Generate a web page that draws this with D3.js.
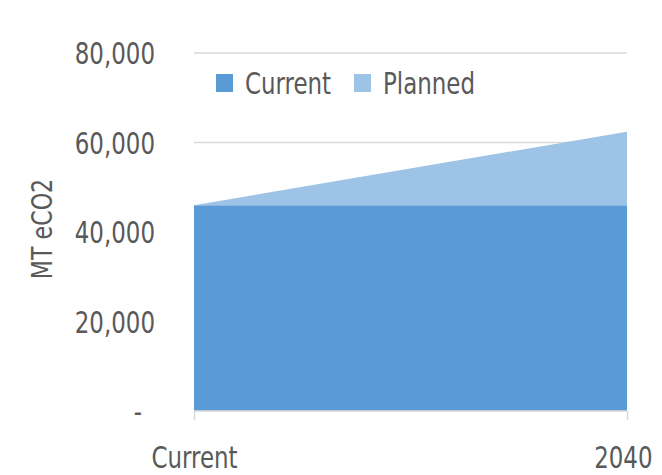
<html>
<head>
<meta charset="utf-8">
<title>Emissions</title>
<style>
  body { margin: 0; background: #fff; }
  text { font-family: "Liberation Sans Narrow", "DejaVu Sans Condensed", sans-serif; fill: #595959; }
  .grid line { stroke: #d9d9d9; stroke-width: 1.3px; }
</style>
</head>
<body>
<script src="https://cdn.jsdelivr.net/npm/d3@7"></script>
<script>
var width = 662,
    height = 475;

// data
var categories = ["Current", "2040"];
var currentValues = [46000, 46000];
var plannedValues = [0, 16400];
var seriesNames = ["Current", "Planned"];
var seriesColors = ["#5b9bd5", "#9dc3e6"];
var yTicks = [0, 20000, 40000, 60000, 80000];

var svg = d3.select("body").append("svg")
    .attr("width", width)
    .attr("height", height);

var x = d3.scalePoint().domain(categories).range([194, 627]);
var y = d3.scaleLinear().domain([0, 80000]).range([411, 53]);

// squeeze text horizontally, the original font is a narrow one
function narrow(sel) {
    sel.each(function() {
        var w = this.getComputedTextLength();
        d3.select(this).attr("textLength", w * 0.85).attr("lengthAdjust", "spacingAndGlyphs");
    });
}

var rows = categories.map(function(c, i) {
    return { cat: c, Current: currentValues[i], Planned: plannedValues[i] };
});
var stack = d3.stack().keys(seriesNames)(rows);

// gridlines
svg.append("g").attr("class", "grid")
    .selectAll("line")
    .data(yTicks.filter(function(d) { return d > 0; }))
    .enter().append("line")
    .attr("x1", x.range()[0]).attr("x2", x.range()[1])
    .attr("y1", function(d) { return y(d); })
    .attr("y2", function(d) { return y(d); });

var area = d3.area()
    .x(function(d) { return x(d.data.cat); })
    .y0(function(d) { return y(d[0]); })
    .y1(function(d) { return y(d[1]); });

svg.append("g").selectAll("path")
    .data(stack)
    .enter().append("path")
    .attr("fill", function(d, i) { return seriesColors[i]; })
    .attr("d", area);

// y axis labels
var yAxis = d3.axisLeft(y)
    .tickValues(yTicks)
    .tickSize(0)
    .tickPadding(0)
    .tickFormat(function(d) { return d === 0 ? "-" : d3.format(",")(d); });
var ya = svg.append("g").attr("transform", "translate(155,0)").call(yAxis);
ya.select(".domain").remove();
ya.selectAll("text").style("font-size", "30px").attr("fill", "#595959").attr("dy", "0.35em")
    .attr("dx", function(d) { return d === 0 ? -13 : 0; })
    .call(narrow);

// x axis
var xAxis = d3.axisBottom(x).tickSize(9).tickPadding(37);
var xa = svg.append("g").attr("transform", "translate(0,411)").call(xAxis);
xa.select(".domain").attr("stroke", "#d9d9d9").attr("stroke-width", 1.5).attr("d", "M194,0H627");
xa.selectAll(".tick line").attr("stroke", "#d9d9d9").attr("stroke-width", 1.5);
xa.selectAll("text").style("font-size", "30px").attr("fill", "#595959").attr("dy", "0.35em").call(narrow);
// last label sits against the right edge
xa.selectAll("text").filter(function(d) { return d === categories[categories.length - 1]; })
    .attr("text-anchor", "end").attr("x", 25);

// y axis title
svg.append("text")
    .attr("transform", "translate(52,229) rotate(-90)")
    .attr("text-anchor", "middle")
    .style("font-size", "29px")
    .text("MT eCO2")
    .call(narrow);

// legend
var legendX = [216, 354];
var legend = svg.append("g").selectAll("g")
    .data(seriesNames)
    .enter().append("g")
    .attr("transform", function(d, i) { return "translate(" + legendX[i] + ",74)"; });
legend.append("rect")
    .attr("width", 17).attr("height", 18)
    .attr("fill", function(d, i) { return seriesColors[i]; });
legend.append("text")
    .attr("x", 29).attr("y", 20)
    .style("font-size", "30px")
    .text(function(d) { return d; })
    .call(narrow);
</script>
</body>
</html>
